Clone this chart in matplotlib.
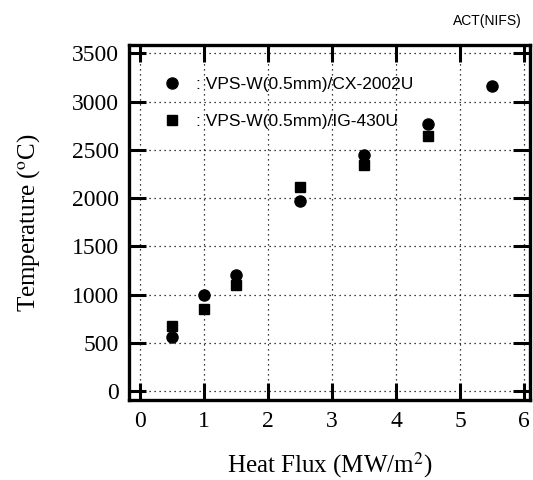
import matplotlib
matplotlib.use("Agg")
import matplotlib.pyplot as plt

plt.rcParams["mathtext.fontset"] = "stix"

# Data
heat_flux_cx = [0.5, 1.0, 1.5, 2.5, 3.5, 4.5, 5.5]
temp_cx = [560, 995, 1205, 1970, 2445, 2765, 3162]
heat_flux_ig = [0.5, 1.0, 1.5, 2.5, 3.5, 4.5]
temp_ig = [675, 845, 1097, 2112, 2342, 2642]
label_cx = ": VPS-W(0.5mm)/CX-2002U"
label_ig = ": VPS-W(0.5mm)/IG-430U"
xticks = [0, 1, 2, 3, 4, 5, 6]
yticks = [0, 500, 1000, 1500, 2000, 2500, 3000, 3500]

serif = ["Liberation Serif", "DejaVu Serif"]
sans = ["Liberation Sans", "DejaVu Sans"]

fig = plt.figure(figsize=(5.33, 4.8), dpi=100)
ax = fig.add_axes([129/533, 1-400/480, (530-129)/533, (400-45)/480])

ax.plot(heat_flux_cx, temp_cx, linestyle="none", marker="o", color="black",
        markersize=8, label=label_cx, zorder=3)
ax.plot(heat_flux_ig, temp_ig, linestyle="none", marker="s", color="black",
        markersize=7.5, label=label_ig, zorder=3)

ax.set_xlim(-0.165, 6.09)
ax.set_ylim(-93, 3586)
ax.set_xticks(xticks)
ax.set_yticks(yticks)
ax.set_xticklabels([str(v) for v in xticks], fontfamily=serif, fontsize=17)
ax.set_yticklabels([str(v) for v in yticks], fontfamily=serif, fontsize=17)
ax.tick_params(direction="in", length=12, width=2.2, top=True, right=True,
               colors="black")
ax.tick_params(axis="y", pad=7)
ax.tick_params(axis="x", pad=8)
ax.grid(True, linestyle=(0, (1, 3)), color="black", linewidth=0.9)
for s in ax.spines.values():
    s.set_linewidth(2.4)

ax.set_xlabel("Heat Flux (MW/m$^2$)", fontfamily=serif, fontsize=18, labelpad=13)
ax.set_ylabel("Temperature ($^{\\rm o}$C)", fontfamily=serif, fontsize=18, labelpad=22)

leg = ax.legend(loc="upper left", bbox_to_anchor=(0.065, 0.929), frameon=False,
                prop={"family": sans, "size": 12.5}, handlelength=1.2,
                handletextpad=0.75, labelspacing=1.25, borderaxespad=0)

fig.text(522/533, 1-21/480, "ACT(NIFS)", ha="right", va="center",
         fontfamily=sans, fontsize=10)

fig.savefig("out.png", dpi=100)
